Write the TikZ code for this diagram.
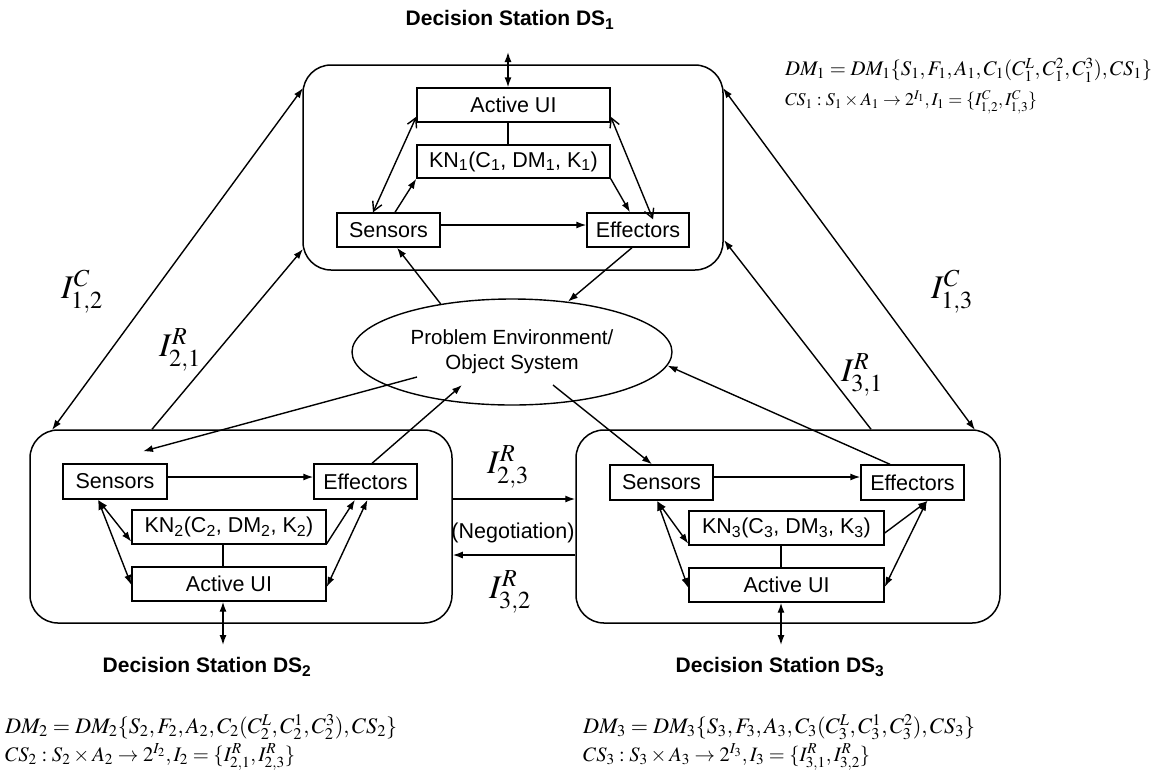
\documentclass[tikz,border=0pt]{standalone}
\usepackage{mathptmx}
\usepackage[no-math]{fontspec}
\usepackage{graphicx}
\newfontfamily\arial{Liberation Sans}
\usetikzlibrary{arrows.meta,shapes.geometric,calc}
\begin{document}
\begin{tikzpicture}[x=1pt,y=-1pt,
  every node/.style={font=\arial\fontsize{21.5}{25}\selectfont},
  box/.style={draw, line width=1.4pt, inner sep=0pt, align=center},
  station/.style={draw, line width=1.5pt, rounded corners=28pt, inner sep=0pt},
  conn/.style={line width=1.4pt},
  arr/.style={conn, -{Latex[length=10pt,width=7pt]}},
  darr/.style={conn, {Latex[length=10pt,width=7pt]}-{Latex[length=10pt,width=7pt]}},
  varr/.style={conn, {Straight Barb[length=9pt,width=10pt]}-{Straight Barb[length=9pt,width=10pt]}},
  lbl/.style={font=\fontsize{33}{33}\selectfont, inner sep=0pt},
  title/.style={font=\arial\bfseries\fontsize{21}{25}\selectfont},
  formula/.style={anchor=west, inner sep=0pt, font=\fontsize{17}{20}\selectfont}
]
\useasboundingbox (0,0) rectangle (1155,777);

% stations
\node[station, minimum width=420pt, minimum height=205pt] (ds1) at (513,167.5) {};
\node[station, minimum width=422pt, minimum height=193pt] (ds2) at (241,526.5) {};
\node[station, minimum width=424pt, minimum height=193pt] (ds3) at (788,526.5) {};

% DS1 inner
\node[box, minimum width=193pt, minimum height=34pt] (ui1) at (513.5,105) {Active UI};
\node[box, minimum width=193pt, minimum height=33pt] (kn1) at (513.5,161.5) {KN\textsubscript{1}(C\textsubscript{1}, DM\textsubscript{1}, K\textsubscript{1})};
\node[box, minimum width=103pt, minimum height=34pt] (s1) at (388.5,230) {Sensors};
\node[box, minimum width=102pt, minimum height=34pt] (e1) at (638,230) {Effectors};

% DS2 inner
\node[box, minimum width=104pt, minimum height=35pt] (s2) at (115,481.5) {Sensors};
\node[box, minimum width=103pt, minimum height=35pt] (e2) at (365.5,481.5) {Effectors};
\node[box, minimum width=194pt, minimum height=34pt] (kn2) at (229,527) {KN\textsubscript{2}(C\textsubscript{2}, DM\textsubscript{2}, K\textsubscript{2})};
\node[box, minimum width=194pt, minimum height=34pt] (ui2) at (229,584) {Active UI};

% DS3 inner
\node[box, minimum width=103pt, minimum height=35pt] (s3) at (661.5,482.5) {Sensors};
\node[box, minimum width=103pt, minimum height=35pt] (e3) at (912.5,482.5) {Effectors};
\node[box, minimum width=195pt, minimum height=34pt] (kn3) at (786.5,528) {KN\textsubscript{3}(C\textsubscript{3}, DM\textsubscript{3}, K\textsubscript{3})};
\node[box, minimum width=195pt, minimum height=34pt] (ui3) at (786.5,585) {Active UI};

% environment
\node[draw, ellipse, line width=1.4pt, minimum width=320pt, minimum height=106pt, align=center,
      font=\arial\fontsize{20.5}{25}\selectfont] (ell) at (512,352) {Problem Environment/\\Object System};

% titles
\node[title] (t1) at (510,20) {Decision Station DS\textsubscript{1}};
\node[title] (t2) at (207,667) {Decision Station DS\textsubscript{2}};
\node[title] (t3) at (780,667) {Decision Station DS\textsubscript{3}};

% free ends
\coordinate (top1) at (508,52);
\coordinate (bot2) at (223,645);
\coordinate (bot3) at (781,645);
\coordinate (ea) at (417,377);
\coordinate (eb) at (462,385);
\coordinate (ec) at (553,385);
\coordinate (c12a) at (303,88);
\coordinate (c12b) at (52,430);
\coordinate (c13a) at (723,88);
\coordinate (c13b) at (975,430);
\coordinate (r21) at (303,249);
\coordinate (r31) at (724,240);

% DS1 connectors
\draw[darr] ([xshift=-5.5pt]ui1.north) -- (top1);
\draw[conn] ([xshift=-5.5pt]kn1.north) -- ([xshift=-5.5pt]ui1.south);
\draw[arr] ([yshift=5pt]s1.east) -- ([yshift=5pt]e1.west);
\draw[varr] ([xshift=-15.5pt]s1.north) -- ([yshift=6pt]ui1.south west);
\draw[arr] ([xshift=6.5pt]s1.north) -- (kn1.south west);
\draw[arr] (kn1.south east) -- ([xshift=-8pt]e1.north);
\draw[varr] ([yshift=6pt]ui1.south east) -- ([xshift=15pt,yshift=-7pt]e1.north);

% DS2 connectors
\draw[arr] ([yshift=4.5pt]s2.east) -- ([yshift=4.5pt]e2.west);
\draw[darr] ([xshift=-17pt]s2.south) -- ([yshift=3pt]kn2.south west);
\draw[darr] ([xshift=-17pt]s2.south) -- ([yshift=-1pt]ui2.west);
\draw[arr] ([yshift=1pt]kn2.south east) -- ([xshift=-10.5pt]e2.south);
\draw[darr] ([yshift=-3pt]ui2.east) -- ([xshift=2pt]e2.south);
\draw[conn] ([xshift=-6pt]kn2.south) -- ([xshift=-6pt]ui2.north);
\draw[darr] ([xshift=-6pt]ui2.south) -- (bot2);

% DS3 connectors
\draw[arr] ([yshift=5.5pt]s3.east) -- ([yshift=5.5pt]e3.west);
\draw[darr] ([xshift=-4.5pt]s3.south) -- ([yshift=2pt]kn3.south west);
\draw[darr] ([xshift=-4.5pt]s3.south) -- ([yshift=-3pt]ui3.west);
\draw[arr] ([yshift=-5pt]kn3.east) -- ([xshift=15.5pt]e3.south);
\draw[darr] ([yshift=-2pt]ui3.east) -- ([xshift=14.5pt]e3.south);
\draw[conn] ([xshift=-5.5pt]kn3.south) -- ([xshift=-5.5pt]ui3.north);
\draw[darr] ([xshift=-5.5pt]ui3.south) -- (bot3);

% environment connectors
\draw[arr] (ell.146) -- ([xshift=8.5pt]s1.south);
\draw[arr] ([xshift=-6pt]e1.south) -- (ell.42);
\draw[arr] (ea) -- ([xshift=28pt,yshift=12pt]s2.north);
\draw[arr] ([xshift=6.5pt]e2.north) -- (eb);
\draw[arr] (ec) -- ([xshift=-9.5pt]s3.north);
\draw[arr] ([xshift=-22.5pt]e3.north) -- (ell.-5);

% station connectors
\draw[darr] (c12a) -- (c12b);
\draw[arr] ([xshift=-89pt]ds2.north) -- (r21);
\draw[darr] (c13a) -- (c13b);
\draw[arr] ([xshift=83pt]ds3.north) -- (r31);

% negotiation
\draw[arr] ([yshift=27.5pt]ds2.east) -- ([yshift=27.5pt]ds3.west);
\draw[arr] ([yshift=-28.5pt]ds3.west) -- ([yshift=-28.5pt]ds2.east);
\node (neg) at (513,533) {(Negotiation)};

% labels
\node[lbl] (l12) at (82,292) {$I^C_{1,2}$};
\node[lbl] (l21) at (180,350) {$I^R_{2,1}$};
\node[lbl] (l31) at (862,375) {$I^R_{3,1}$};
\node[lbl] (l13) at (952,292) {$I^C_{1,3}$};
\node[lbl] (l23) at (508,467) {$I^R_{2,3}$};
\node[lbl] (l32) at (510,592) {$I^R_{3,2}$};

% formulas
\node[formula] (f1) at (785,70) {\resizebox{367pt}{!}{$DM_1=DM_1\{S_1,F_1,A_1,C_1(C_1^L,C_1^2,C_1^3),CS_1\}$}};
\node[formula] (f2) at (785,102) {\resizebox{252pt}{!}{$CS_1:S_1\times A_1\rightarrow 2^{I_1},I_1=\{I^C_{1,2},I^C_{1,3}\}$}};
\node[formula] (f3) at (5,727) {\resizebox{392pt}{!}{$DM_2=DM_2\{S_2,F_2,A_2,C_2(C_2^L,C_2^1,C_2^3),CS_2\}$}};
\node[formula] (f4) at (5,757) {\resizebox{290pt}{!}{$CS_2:S_2\times A_2\rightarrow 2^{I_2},I_2=\{I^R_{2,1},I^R_{2,3}\}$}};
\node[formula] (f5) at (583,727) {\resizebox{392pt}{!}{$DM_3=DM_3\{S_3,F_3,A_3,C_3(C_3^L,C_3^1,C_3^2),CS_3\}$}};
\node[formula] (f6) at (583,757) {\resizebox{287pt}{!}{$CS_3:S_3\times A_3\rightarrow 2^{I_3},I_3=\{I^R_{3,1},I^R_{3,2}\}$}};
\end{tikzpicture}
\end{document}
